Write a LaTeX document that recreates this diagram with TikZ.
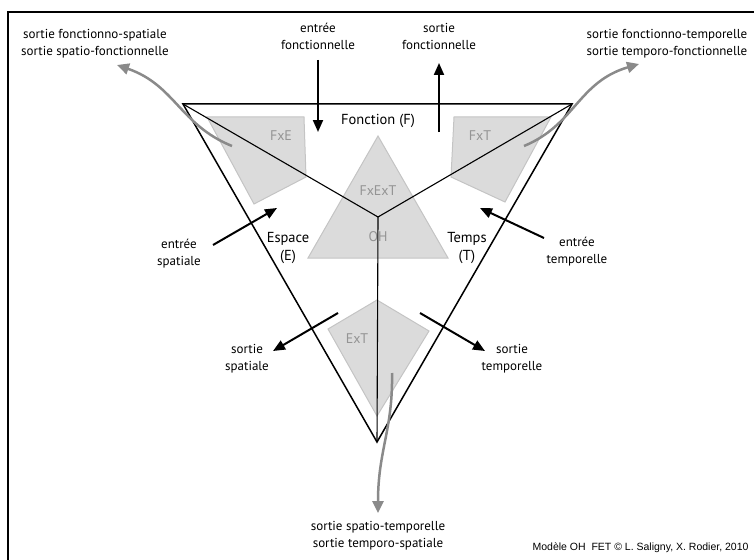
\documentclass[tikz,border=0pt]{standalone}
\usepackage{fontspec}
\setmainfont{PT Sans}
\newfontfamily\creditfont{Liberation Sans}
\usetikzlibrary{arrows.meta}

\begin{document}
\begin{tikzpicture}
	[x = 1pt, y = -1pt,
	zone/.style = {draw = black!23, fill = black!14, line width = 1pt},
	zonetext/.style = {text = black!42, font = \fontsize{14}{16}\selectfont},
	label/.style = {align = center, font = \fontsize{13}{17}\selectfont},
	axis/.style = {font = \fontsize{14.5}{18}\selectfont, align = center},
	flow/.style = {line width = 2pt, -{Triangle[length = 12pt, width = 10pt]}},
	exit/.style = {draw = black!46, line width = 2.5pt, -{Triangle[length = 12pt, width = 11pt]}}]
	\useasboundingbox (0,0) rectangle (754,559);
	\clip (0,0) rectangle (754,559);
	\draw[line width = 1.5pt] (8,12) rectangle (770,575);
	% gray zones
	\filldraw [zone] (207,117) -- (304,117) -- (306,177) -- (254,204) -- cycle;
	\filldraw [zone] (454,117) -- (551,117) -- (505,202) -- (451,177) -- cycle;
	\filldraw [zone] (378,136) -- (448,258) -- (308,258) -- cycle;
	\filldraw [zone] (377,300) -- (429,331) -- (377,416) -- (328,329) -- cycle;
	\node [zonetext] (fxe) at (281,136) {FxE};
	\node [zonetext] (fxt) at (480,136) {FxT};
	\node [zonetext] (fxext) at (378,191) {FxExT};
	\node [zonetext] (oh) at (378,237) {OH};
	\node [zonetext] (ext) at (357,339) {ExT};
	% triangle and axes
	\coordinate (F) at (183,104);
	\coordinate (T) at (572,104);
	\coordinate (E) at (377,442);
	\coordinate (O) at (378,217);
	\draw[line width = 1.5pt, line join = miter] (F) -- (T) -- (E) -- cycle;
	\draw[line width = 1.1pt] (F) -- (O) -- (T);
	\draw[line width = 1.1pt] (O) -- (E);
	\node [axis] (fonction) at (378,121) {Fonction (F)};
	\node [axis] (espace) at (288,248) {Espace\\(E)};
	\node [axis] (temps) at (467,248) {Temps\\(T)};
	% simple inputs and outputs
	\node [label] (ef) at (318,36) {entrée\\fonctionnelle};
	\node [label] (sf) at (439,36) {sortie\\fonctionnelle};
	\node [label] (es) at (179,254) {entrée\\spatiale};
	\node [label] (et) at (577,252) {entrée\\temporelle};
	\node [label] (ss) at (247,359) {sortie\\spatiale};
	\node [label] (st) at (512,359) {sortie\\temporelle};
	\coordinate (ef1) at (318,60);  \coordinate (ef2) at (318,132);
	\coordinate (sf1) at (439,132); \coordinate (sf2) at (439,63);
	\coordinate (es1) at (213,245); \coordinate (es2) at (277,208);
	\coordinate (et1) at (544,238); \coordinate (et2) at (480,208);
	\coordinate (ss1) at (338,313); \coordinate (ss2) at (273,351);
	\coordinate (st1) at (420,313); \coordinate (st2) at (485,351);
	\draw [flow] (ef1) -- (ef2);
	\draw [flow] (sf1) -- (sf2);
	\draw [flow] (es1) -- (es2);
	\draw [flow] (et1) -- (et2);
	\draw [flow] (ss1) -- (ss2);
	\draw [flow] (st1) -- (st2);
	% combined outputs
	\node [label] (sfe) at (95,44) {sortie fonctionno-spatiale\\sortie spatio-fonctionnelle};
	\node [label] (sft) at (667,44) {sortie fonctionno-temporelle\\sortie temporo-fonctionnelle};
	\node [label] (set) at (378,536) {sortie spatio-temporelle\\sortie temporo-spatiale};
	\coordinate (xe1) at (232,146); \coordinate (xe2) at (117,65);
	\coordinate (xt1) at (524,146); \coordinate (xt2) at (639,64);
	\coordinate (xb1) at (392,373); \coordinate (xb2) at (378,513);
	\draw [exit] (xe1) .. controls (180,125) and (175,85) .. (xe2);
	\draw [exit] (xt1) .. controls (575,125) and (578,82) .. (xt2);
	\draw [exit] (xb1) .. controls (393,430) and (378,450) .. (xb2);
	\node [anchor = east, font = \creditfont\fontsize{10.5}{12}\selectfont] (credit) at (752,548) {Modèle OH\ \ FET © L. Saligny, X. Rodier, 2010};
\end{tikzpicture}
\end{document}
